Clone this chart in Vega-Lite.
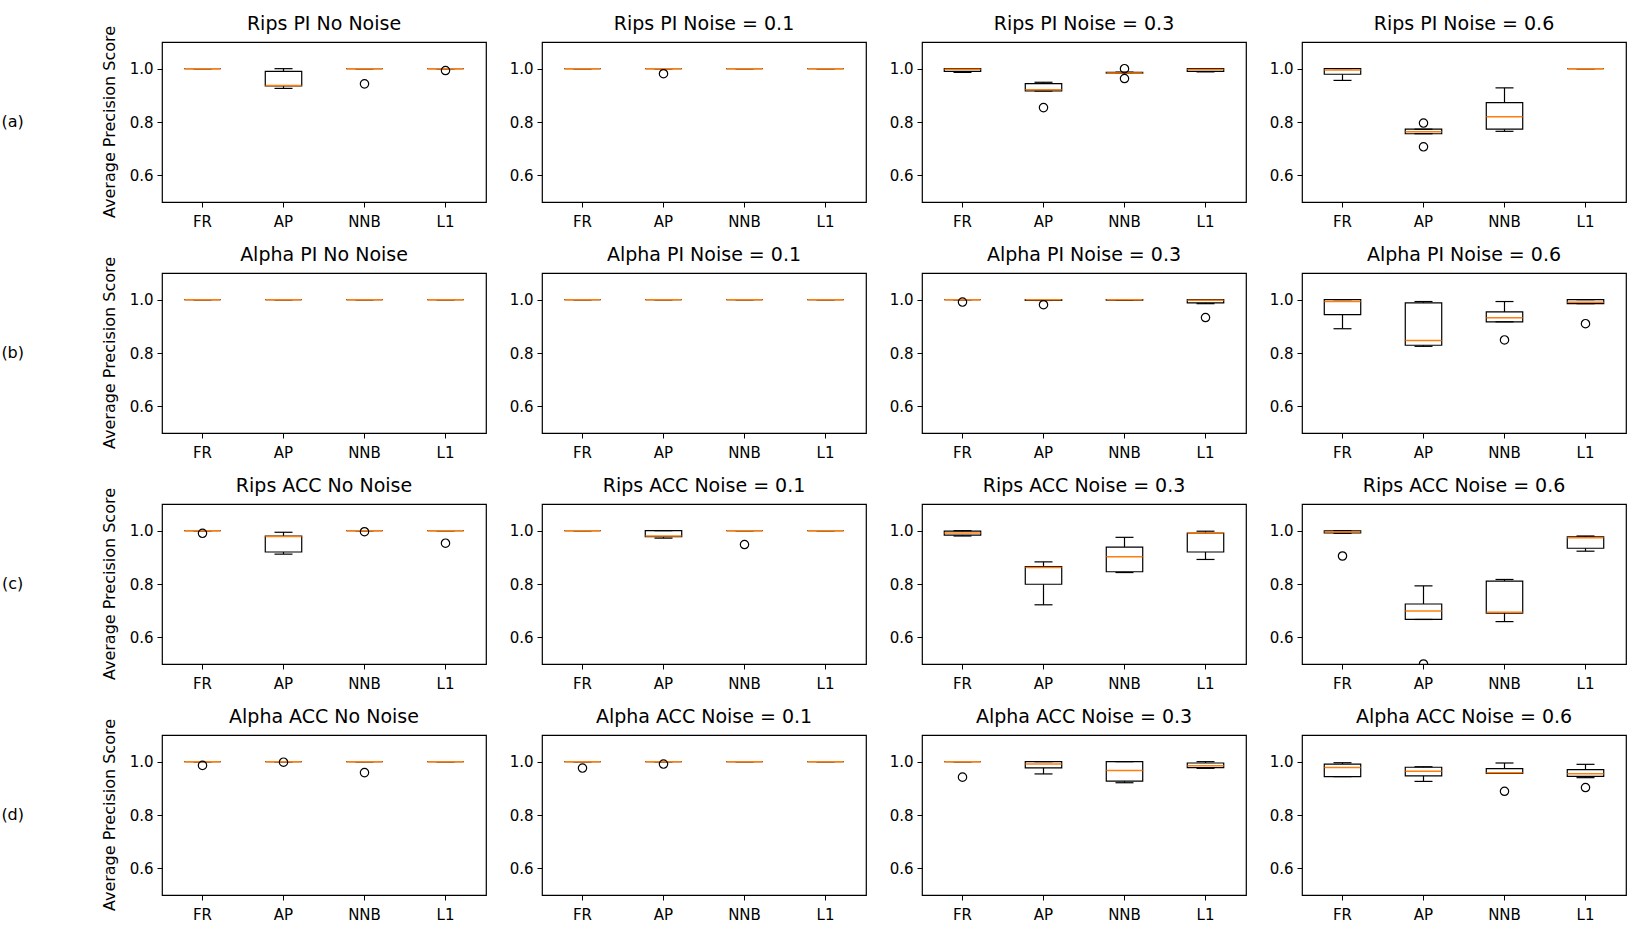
{
  "$schema": "https://vega.github.io/schema/vega-lite/v6.json",
  "padding": {"left": 0, "top": 14, "right": 5, "bottom": 5},
  "background": "white",
  "config": {
    "font": "DejaVu Sans",
    "view": {"stroke": "black", "strokeWidth": 1.2},
    "axis": {"labelFont": "DejaVu Sans", "labelFontSize": 15, "labelColor": "black", "tickColor": "black", "tickSize": 5, "tickWidth": 1, "labelPadding": 4, "domain": false, "grid": false, "titleFont": "DejaVu Sans", "titleFontSize": 15, "titleFontWeight": "normal", "titleColor": "black"},
    "axisX": {"labelAngle": 0, "labelPadding": 7},
    "header": {"labelFont": "DejaVu Sans", "labelFontSize": 19, "labelColor": "black", "labelPadding": 8}
  },
  "datasets": {
    "rows": [
      {"r": "(a)", "k": "lab", "s": "(a)"}, {"r": "(b)", "k": "lab", "s": "(b)"}, {"r": "(c)", "k": "lab", "s": "(c)"}, {"r": "(d)", "k": "lab", "s": "(d)"},
      {"r": "(a)", "k": "ttl", "s": "Average Precision Score"}, {"r": "(b)", "k": "ttl", "s": "Average Precision Score"}, {"r": "(c)", "k": "ttl", "s": "Average Precision Score"}, {"r": "(d)", "k": "ttl", "s": "Average Precision Score"}
    ],
    "main": [
      {"i": 1, "t": "Rips PI No Noise", "m": "FR", "lo": 1, "q1": 1, "md": 1, "q3": 1, "hi": 1},
      {"i": 1, "t": "Rips PI No Noise", "m": "AP", "lo": 0.926, "q1": 0.935, "md": 0.937, "q3": 0.99, "hi": 1},
      {"i": 1, "t": "Rips PI No Noise", "m": "NNB", "lo": 1, "q1": 1, "md": 1, "q3": 1, "hi": 1},
      {"i": 1, "t": "Rips PI No Noise", "m": "NNB", "o": 0.943},
      {"i": 1, "t": "Rips PI No Noise", "m": "L1", "lo": 1, "q1": 1, "md": 1, "q3": 1, "hi": 1},
      {"i": 1, "t": "Rips PI No Noise", "m": "L1", "o": 0.993},

      {"i": 2, "t": "Rips PI Noise = 0.1", "m": "FR", "lo": 1, "q1": 1, "md": 1, "q3": 1, "hi": 1},
      {"i": 2, "t": "Rips PI Noise = 0.1", "m": "AP", "lo": 1, "q1": 1, "md": 1, "q3": 1, "hi": 1},
      {"i": 2, "t": "Rips PI Noise = 0.1", "m": "AP", "o": 0.981},
      {"i": 2, "t": "Rips PI Noise = 0.1", "m": "NNB", "lo": 1, "q1": 1, "md": 1, "q3": 1, "hi": 1},
      {"i": 2, "t": "Rips PI Noise = 0.1", "m": "L1", "lo": 1, "q1": 1, "md": 1, "q3": 1, "hi": 1},

      {"i": 3, "t": "Rips PI Noise = 0.3", "m": "FR", "lo": 0.986, "q1": 0.99, "md": 0.998, "q3": 1, "hi": 1},
      {"i": 3, "t": "Rips PI Noise = 0.3", "m": "AP", "lo": 0.916, "q1": 0.917, "md": 0.921, "q3": 0.944, "hi": 0.949},
      {"i": 3, "t": "Rips PI Noise = 0.3", "m": "AP", "o": 0.854},
      {"i": 3, "t": "Rips PI Noise = 0.3", "m": "NNB", "lo": 0.983, "q1": 0.983, "md": 0.984, "q3": 0.986, "hi": 0.987},
      {"i": 3, "t": "Rips PI Noise = 0.3", "m": "NNB", "o": 1.0},
      {"i": 3, "t": "Rips PI Noise = 0.3", "m": "NNB", "o": 0.963},
      {"i": 3, "t": "Rips PI Noise = 0.3", "m": "L1", "lo": 0.988, "q1": 0.99, "md": 0.997, "q3": 1, "hi": 1},

      {"i": 4, "t": "Rips PI Noise = 0.6", "m": "FR", "lo": 0.956, "q1": 0.979, "md": 0.995, "q3": 1, "hi": 1},
      {"i": 4, "t": "Rips PI Noise = 0.6", "m": "AP", "lo": 0.756, "q1": 0.756, "md": 0.763, "q3": 0.773, "hi": 0.773},
      {"i": 4, "t": "Rips PI Noise = 0.6", "m": "AP", "o": 0.796},
      {"i": 4, "t": "Rips PI Noise = 0.6", "m": "AP", "o": 0.707},
      {"i": 4, "t": "Rips PI Noise = 0.6", "m": "NNB", "lo": 0.765, "q1": 0.773, "md": 0.82, "q3": 0.873, "hi": 0.928},
      {"i": 4, "t": "Rips PI Noise = 0.6", "m": "L1", "lo": 1, "q1": 1, "md": 1, "q3": 1, "hi": 1},

      {"i": 5, "t": "Alpha PI No Noise", "m": "FR", "lo": 1, "q1": 1, "md": 1, "q3": 1, "hi": 1},
      {"i": 5, "t": "Alpha PI No Noise", "m": "AP", "lo": 1, "q1": 1, "md": 1, "q3": 1, "hi": 1},
      {"i": 5, "t": "Alpha PI No Noise", "m": "NNB", "lo": 1, "q1": 1, "md": 1, "q3": 1, "hi": 1},
      {"i": 5, "t": "Alpha PI No Noise", "m": "L1", "lo": 1, "q1": 1, "md": 1, "q3": 1, "hi": 1},

      {"i": 6, "t": "Alpha PI Noise = 0.1", "m": "FR", "lo": 1, "q1": 1, "md": 1, "q3": 1, "hi": 1},
      {"i": 6, "t": "Alpha PI Noise = 0.1", "m": "AP", "lo": 1, "q1": 1, "md": 1, "q3": 1, "hi": 1},
      {"i": 6, "t": "Alpha PI Noise = 0.1", "m": "NNB", "lo": 1, "q1": 1, "md": 1, "q3": 1, "hi": 1},
      {"i": 6, "t": "Alpha PI Noise = 0.1", "m": "L1", "lo": 1, "q1": 1, "md": 1, "q3": 1, "hi": 1},

      {"i": 7, "t": "Alpha PI Noise = 0.3", "m": "FR", "lo": 1, "q1": 1, "md": 1, "q3": 1, "hi": 1},
      {"i": 7, "t": "Alpha PI Noise = 0.3", "m": "FR", "o": 0.991},
      {"i": 7, "t": "Alpha PI Noise = 0.3", "m": "AP", "lo": 0.997, "q1": 0.997, "md": 1, "q3": 1, "hi": 1},
      {"i": 7, "t": "Alpha PI Noise = 0.3", "m": "AP", "o": 0.981},
      {"i": 7, "t": "Alpha PI Noise = 0.3", "m": "NNB", "lo": 0.998, "q1": 0.998, "md": 1, "q3": 1, "hi": 1},
      {"i": 7, "t": "Alpha PI Noise = 0.3", "m": "L1", "lo": 0.985, "q1": 0.988, "md": 0.998, "q3": 1, "hi": 1},
      {"i": 7, "t": "Alpha PI Noise = 0.3", "m": "L1", "o": 0.933},

      {"i": 8, "t": "Alpha PI Noise = 0.6", "m": "FR", "lo": 0.891, "q1": 0.944, "md": 0.993, "q3": 1, "hi": 1},
      {"i": 8, "t": "Alpha PI Noise = 0.6", "m": "AP", "lo": 0.825, "q1": 0.829, "md": 0.847, "q3": 0.988, "hi": 0.993},
      {"i": 8, "t": "Alpha PI Noise = 0.6", "m": "NNB", "lo": 0.917, "q1": 0.917, "md": 0.932, "q3": 0.954, "hi": 0.993},
      {"i": 8, "t": "Alpha PI Noise = 0.6", "m": "NNB", "o": 0.849},
      {"i": 8, "t": "Alpha PI Noise = 0.6", "m": "L1", "lo": 0.985, "q1": 0.985, "md": 0.99, "q3": 1, "hi": 1},
      {"i": 8, "t": "Alpha PI Noise = 0.6", "m": "L1", "o": 0.91},

      {"i": 9, "t": "Rips ACC No Noise", "m": "FR", "lo": 1, "q1": 1, "md": 1, "q3": 1, "hi": 1},
      {"i": 9, "t": "Rips ACC No Noise", "m": "FR", "o": 0.99},
      {"i": 9, "t": "Rips ACC No Noise", "m": "AP", "lo": 0.912, "q1": 0.92, "md": 0.978, "q3": 0.98, "hi": 0.994},
      {"i": 9, "t": "Rips ACC No Noise", "m": "NNB", "lo": 1, "q1": 1, "md": 1, "q3": 1, "hi": 1},
      {"i": 9, "t": "Rips ACC No Noise", "m": "NNB", "o": 0.996},
      {"i": 9, "t": "Rips ACC No Noise", "m": "L1", "lo": 1, "q1": 1, "md": 1, "q3": 1, "hi": 1},
      {"i": 9, "t": "Rips ACC No Noise", "m": "L1", "o": 0.953},

      {"i": 10, "t": "Rips ACC Noise = 0.1", "m": "FR", "lo": 1, "q1": 1, "md": 1, "q3": 1, "hi": 1},
      {"i": 10, "t": "Rips ACC Noise = 0.1", "m": "AP", "lo": 0.972, "q1": 0.978, "md": 0.98, "q3": 1, "hi": 1},
      {"i": 10, "t": "Rips ACC Noise = 0.1", "m": "NNB", "lo": 1, "q1": 1, "md": 1, "q3": 1, "hi": 1},
      {"i": 10, "t": "Rips ACC Noise = 0.1", "m": "NNB", "o": 0.948},
      {"i": 10, "t": "Rips ACC Noise = 0.1", "m": "L1", "lo": 1, "q1": 1, "md": 1, "q3": 1, "hi": 1},

      {"i": 11, "t": "Rips ACC Noise = 0.3", "m": "FR", "lo": 0.98, "q1": 0.983, "md": 0.991, "q3": 0.998, "hi": 1},
      {"i": 11, "t": "Rips ACC Noise = 0.3", "m": "AP", "lo": 0.722, "q1": 0.799, "md": 0.862, "q3": 0.865, "hi": 0.883},
      {"i": 11, "t": "Rips ACC Noise = 0.3", "m": "NNB", "lo": 0.843, "q1": 0.846, "md": 0.902, "q3": 0.938, "hi": 0.975},
      {"i": 11, "t": "Rips ACC Noise = 0.3", "m": "L1", "lo": 0.892, "q1": 0.92, "md": 0.991, "q3": 0.991, "hi": 0.998},

      {"i": 12, "t": "Rips ACC Noise = 0.6", "m": "FR", "lo": 0.99, "q1": 0.992, "md": 0.995, "q3": 0.999, "hi": 1},
      {"i": 12, "t": "Rips ACC Noise = 0.6", "m": "FR", "o": 0.905},
      {"i": 12, "t": "Rips ACC Noise = 0.6", "m": "AP", "lo": 0.667, "q1": 0.667, "md": 0.699, "q3": 0.725, "hi": 0.793},
      {"i": 12, "t": "Rips ACC Noise = 0.6", "m": "AP", "o": 0.5},
      {"i": 12, "t": "Rips ACC Noise = 0.6", "m": "NNB", "lo": 0.659, "q1": 0.691, "md": 0.694, "q3": 0.811, "hi": 0.817},
      {"i": 12, "t": "Rips ACC Noise = 0.6", "m": "L1", "lo": 0.923, "q1": 0.934, "md": 0.973, "q3": 0.977, "hi": 0.98},

      {"i": 13, "t": "Alpha ACC No Noise", "m": "FR", "lo": 1, "q1": 1, "md": 1, "q3": 1, "hi": 1},
      {"i": 13, "t": "Alpha ACC No Noise", "m": "FR", "o": 0.986},
      {"i": 13, "t": "Alpha ACC No Noise", "m": "AP", "lo": 1, "q1": 1, "md": 1, "q3": 1, "hi": 1},
      {"i": 13, "t": "Alpha ACC No Noise", "m": "AP", "o": 0.998},
      {"i": 13, "t": "Alpha ACC No Noise", "m": "NNB", "lo": 1, "q1": 1, "md": 1, "q3": 1, "hi": 1},
      {"i": 13, "t": "Alpha ACC No Noise", "m": "NNB", "o": 0.959},
      {"i": 13, "t": "Alpha ACC No Noise", "m": "L1", "lo": 1, "q1": 1, "md": 1, "q3": 1, "hi": 1},

      {"i": 14, "t": "Alpha ACC Noise = 0.1", "m": "FR", "lo": 1, "q1": 1, "md": 1, "q3": 1, "hi": 1},
      {"i": 14, "t": "Alpha ACC Noise = 0.1", "m": "FR", "o": 0.976},
      {"i": 14, "t": "Alpha ACC Noise = 0.1", "m": "AP", "lo": 1, "q1": 1, "md": 1, "q3": 1, "hi": 1},
      {"i": 14, "t": "Alpha ACC Noise = 0.1", "m": "AP", "o": 0.991},
      {"i": 14, "t": "Alpha ACC Noise = 0.1", "m": "NNB", "lo": 1, "q1": 1, "md": 1, "q3": 1, "hi": 1},
      {"i": 14, "t": "Alpha ACC Noise = 0.1", "m": "L1", "lo": 1, "q1": 1, "md": 1, "q3": 1, "hi": 1},

      {"i": 15, "t": "Alpha ACC Noise = 0.3", "m": "FR", "lo": 1, "q1": 1, "md": 1, "q3": 1, "hi": 1},
      {"i": 15, "t": "Alpha ACC Noise = 0.3", "m": "FR", "o": 0.942},
      {"i": 15, "t": "Alpha ACC Noise = 0.3", "m": "AP", "lo": 0.954, "q1": 0.977, "md": 0.991, "q3": 1, "hi": 1},
      {"i": 15, "t": "Alpha ACC Noise = 0.3", "m": "NNB", "lo": 0.921, "q1": 0.927, "md": 0.967, "q3": 1, "hi": 1},
      {"i": 15, "t": "Alpha ACC Noise = 0.3", "m": "L1", "lo": 0.975, "q1": 0.978, "md": 0.985, "q3": 0.995, "hi": 1},

      {"i": 16, "t": "Alpha ACC Noise = 0.6", "m": "FR", "lo": 0.944, "q1": 0.944, "md": 0.978, "q3": 0.991, "hi": 0.996},
      {"i": 16, "t": "Alpha ACC Noise = 0.6", "m": "AP", "lo": 0.926, "q1": 0.947, "md": 0.964, "q3": 0.979, "hi": 0.981},
      {"i": 16, "t": "Alpha ACC Noise = 0.6", "m": "NNB", "lo": 0.956, "q1": 0.956, "md": 0.958, "q3": 0.974, "hi": 0.995},
      {"i": 16, "t": "Alpha ACC Noise = 0.6", "m": "NNB", "o": 0.889},
      {"i": 16, "t": "Alpha ACC Noise = 0.6", "m": "L1", "lo": 0.94, "q1": 0.945, "md": 0.955, "q3": 0.97, "hi": 0.99},
      {"i": 16, "t": "Alpha ACC Noise = 0.6", "m": "L1", "o": 0.903}
    ]
  },
  "hconcat": [
    {
      "data": {"name": "rows"},
      "width": 123,
      "height": 853,
      "view": {"stroke": null},
      "encoding": {
        "y": {"field": "r", "type": "ordinal", "axis": null, "scale": {"type": "point", "padding": 0.346}},
        "x": {"field": "k", "type": "nominal", "axis": null, "scale": {"type": "point", "domain": ["lab", "ttl"], "padding": 0.13}},
        "text": {"field": "s"}
      },
      "layer": [
        {"transform": [{"filter": "datum.k == 'lab'"}],
         "mark": {"type": "text", "fontSize": 16, "color": "black", "font": "DejaVu Sans"}},
        {"transform": [{"filter": "datum.k == 'ttl'"}],
         "mark": {"type": "text", "fontSize": 16, "color": "black", "font": "DejaVu Sans", "angle": 270}}
      ]
    },
    {
      "data": {"name": "main"},
      "facet": {"field": "t", "type": "nominal", "sort": {"field": "i", "op": "min"}, "header": {"title": null}},
      "columns": 4,
      "spacing": {"row": 15, "column": 21},
      "resolve": {"axis": {"x": "independent", "y": "independent"}},
      "spec": {
        "width": 324,
        "height": 160,
        "encoding": {
          "x": {"field": "m", "type": "nominal", "sort": ["FR", "AP", "NNB", "L1"], "scale": {"paddingInner": 0, "paddingOuter": 0}, "axis": {"title": null}}
        },
        "layer": [
          {"mark": {"type": "rule", "color": "black", "strokeWidth": 1.2},
           "encoding": {"y": {"field": "lo", "type": "quantitative", "scale": {"domain": [0.5, 1.1], "zero": false, "nice": false}, "axis": {"title": null, "values": [0.6, 0.8, 1.0], "format": ".1f"}}, "y2": {"field": "hi"}}},
          {"mark": {"type": "bar", "fill": "white", "stroke": "black", "strokeWidth": 1.2, "width": {"band": 0.45}, "opacity": 1},
           "encoding": {"y": {"field": "q1", "type": "quantitative", "axis": {"title": null}}, "y2": {"field": "q3"}}},
          {"mark": {"type": "tick", "color": "black", "size": 18, "thickness": 1.2, "opacity": 1},
           "encoding": {"y": {"field": "lo", "type": "quantitative", "axis": {"title": null}}}},
          {"mark": {"type": "tick", "color": "black", "size": 18, "thickness": 1.2, "opacity": 1},
           "encoding": {"y": {"field": "hi", "type": "quantitative", "axis": {"title": null}}}},
          {"mark": {"type": "tick", "color": "#ff7f0e", "size": 36, "thickness": 1.5, "opacity": 1},
           "encoding": {"y": {"field": "md", "type": "quantitative", "axis": {"title": null}}}},
          {"mark": {"type": "point", "shape": "circle", "filled": false, "color": "black", "strokeWidth": 1.2, "size": 70, "opacity": 1, "clip": true},
           "encoding": {"y": {"field": "o", "type": "quantitative", "axis": {"title": null}}}}
        ]
      }
    }
  ],
  "spacing": 5
}
